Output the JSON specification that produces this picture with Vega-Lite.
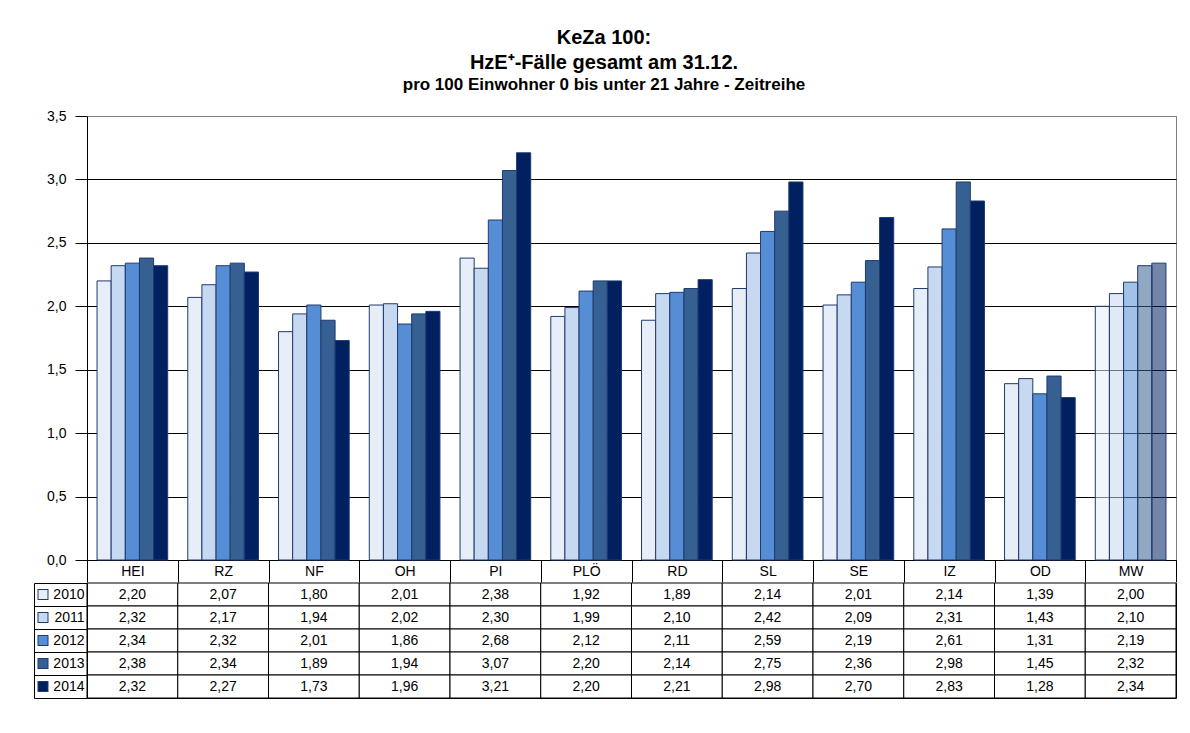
{
  "$schema": "https://vega.github.io/schema/vega-lite/v6.json",
  "padding": {"left": 31, "top": 27, "right": 16, "bottom": 32},
  "background": "white",
  "config": {
    "locale": {"number": {"decimal": ",", "thousands": ".", "grouping": [3], "currency": ["", " €"]}},
    "font": "Liberation Sans",
    "axis": {"labelFont": "Liberation Sans", "labelColor": "black", "labelFontSize": 14}
  },
  "title": {
    "text": ["KeZa 100:", "HzE⁺-Fälle gesamt am 31.12."],
    "subtitle": "pro 100 Einwohner 0 bis unter 21 Jahre - Zeitreihe",
    "anchor": "middle",
    "frame": "bounds",
    "font": "Liberation Sans",
    "fontSize": 20,
    "fontWeight": "bold",
    "lineHeight": 25,
    "color": "black",
    "subtitleFont": "Liberation Sans",
    "subtitleFontSize": 17,
    "subtitleFontWeight": "bold",
    "subtitleColor": "black",
    "subtitlePadding": 4,
    "offset": 16
  },
  "datasets": {
    "d": [
      {"Kreis": "HEI", "Jahr": "2010", "Wert": 2.20},
      {"Kreis": "RZ", "Jahr": "2010", "Wert": 2.07},
      {"Kreis": "NF", "Jahr": "2010", "Wert": 1.80},
      {"Kreis": "OH", "Jahr": "2010", "Wert": 2.01},
      {"Kreis": "PI", "Jahr": "2010", "Wert": 2.38},
      {"Kreis": "PLÖ", "Jahr": "2010", "Wert": 1.92},
      {"Kreis": "RD", "Jahr": "2010", "Wert": 1.89},
      {"Kreis": "SL", "Jahr": "2010", "Wert": 2.14},
      {"Kreis": "SE", "Jahr": "2010", "Wert": 2.01},
      {"Kreis": "IZ", "Jahr": "2010", "Wert": 2.14},
      {"Kreis": "OD", "Jahr": "2010", "Wert": 1.39},
      {"Kreis": "MW", "Jahr": "2010", "Wert": 2.00},
      {"Kreis": "HEI", "Jahr": "2011", "Wert": 2.32},
      {"Kreis": "RZ", "Jahr": "2011", "Wert": 2.17},
      {"Kreis": "NF", "Jahr": "2011", "Wert": 1.94},
      {"Kreis": "OH", "Jahr": "2011", "Wert": 2.02},
      {"Kreis": "PI", "Jahr": "2011", "Wert": 2.30},
      {"Kreis": "PLÖ", "Jahr": "2011", "Wert": 1.99},
      {"Kreis": "RD", "Jahr": "2011", "Wert": 2.10},
      {"Kreis": "SL", "Jahr": "2011", "Wert": 2.42},
      {"Kreis": "SE", "Jahr": "2011", "Wert": 2.09},
      {"Kreis": "IZ", "Jahr": "2011", "Wert": 2.31},
      {"Kreis": "OD", "Jahr": "2011", "Wert": 1.43},
      {"Kreis": "MW", "Jahr": "2011", "Wert": 2.10},
      {"Kreis": "HEI", "Jahr": "2012", "Wert": 2.34},
      {"Kreis": "RZ", "Jahr": "2012", "Wert": 2.32},
      {"Kreis": "NF", "Jahr": "2012", "Wert": 2.01},
      {"Kreis": "OH", "Jahr": "2012", "Wert": 1.86},
      {"Kreis": "PI", "Jahr": "2012", "Wert": 2.68},
      {"Kreis": "PLÖ", "Jahr": "2012", "Wert": 2.12},
      {"Kreis": "RD", "Jahr": "2012", "Wert": 2.11},
      {"Kreis": "SL", "Jahr": "2012", "Wert": 2.59},
      {"Kreis": "SE", "Jahr": "2012", "Wert": 2.19},
      {"Kreis": "IZ", "Jahr": "2012", "Wert": 2.61},
      {"Kreis": "OD", "Jahr": "2012", "Wert": 1.31},
      {"Kreis": "MW", "Jahr": "2012", "Wert": 2.19},
      {"Kreis": "HEI", "Jahr": "2013", "Wert": 2.38},
      {"Kreis": "RZ", "Jahr": "2013", "Wert": 2.34},
      {"Kreis": "NF", "Jahr": "2013", "Wert": 1.89},
      {"Kreis": "OH", "Jahr": "2013", "Wert": 1.94},
      {"Kreis": "PI", "Jahr": "2013", "Wert": 3.07},
      {"Kreis": "PLÖ", "Jahr": "2013", "Wert": 2.20},
      {"Kreis": "RD", "Jahr": "2013", "Wert": 2.14},
      {"Kreis": "SL", "Jahr": "2013", "Wert": 2.75},
      {"Kreis": "SE", "Jahr": "2013", "Wert": 2.36},
      {"Kreis": "IZ", "Jahr": "2013", "Wert": 2.98},
      {"Kreis": "OD", "Jahr": "2013", "Wert": 1.45},
      {"Kreis": "MW", "Jahr": "2013", "Wert": 2.32},
      {"Kreis": "HEI", "Jahr": "2014", "Wert": 2.32},
      {"Kreis": "RZ", "Jahr": "2014", "Wert": 2.27},
      {"Kreis": "NF", "Jahr": "2014", "Wert": 1.73},
      {"Kreis": "OH", "Jahr": "2014", "Wert": 1.96},
      {"Kreis": "PI", "Jahr": "2014", "Wert": 3.21},
      {"Kreis": "PLÖ", "Jahr": "2014", "Wert": 2.20},
      {"Kreis": "RD", "Jahr": "2014", "Wert": 2.21},
      {"Kreis": "SL", "Jahr": "2014", "Wert": 2.98},
      {"Kreis": "SE", "Jahr": "2014", "Wert": 2.70},
      {"Kreis": "IZ", "Jahr": "2014", "Wert": 2.83},
      {"Kreis": "OD", "Jahr": "2014", "Wert": 1.28},
      {"Kreis": "MW", "Jahr": "2014", "Wert": 2.34}
    ]
  },
  "data": {"name": "d"},
  "spacing": -8,
  "vconcat": [
    {
      "width": 1089,
      "height": 444,
      "view": {"stroke": "#808080"},
      "mark": {"type": "bar", "stroke": "#1f3a70", "strokeWidth": 1},
      "encoding": {
        "x": {
          "field": "Kreis", "type": "nominal",
          "scale": {"domain": ["HEI","RZ","NF","OH","PI","PLÖ","RD","SL","SE","IZ","OD","MW"], "paddingInner": 0, "paddingOuter": 0},
          "axis": {"title": null, "labelAngle": 0, "tickBand": "extent", "tickSize": 22, "tickColor": "black", "domainColor": "black", "labelPadding": -11, "labelBaseline": "middle", "labelFontSize": 14}
        },
        "xOffset": {"field": "Jahr", "type": "nominal", "scale": {"paddingOuter": 0.71, "paddingInner": 0}},
        "y": {
          "field": "Wert", "type": "quantitative",
          "scale": {"domain": [0, 3.5], "nice": false},
          "axis": {"title": null, "values": [0, 0.5, 1, 1.5, 2, 2.5, 3, 3.5], "format": ".1f", "tickSize": 12, "tickColor": "black", "domainColor": "black",
                   "gridColor": {"condition": {"test": "datum.value === 3.5", "value": "#808080"}, "value": "black"}, "labelPadding": 9}
        },
        "fill": {
          "field": "Jahr", "type": "nominal",
          "scale": {"domain": ["2010","2011","2012","2013","2014"], "range": ["#e8eef8","#c6d9f1","#558ed5","#366092","#002060"]},
          "legend": null
        },
        "fillOpacity": {"condition": {"test": "datum.Kreis === 'MW'", "value": 0.55}, "value": 1}
      }
    },
    {
      "width": 1089,
      "height": 115,
      "view": {"stroke": "black"},
      "layer": [
        {
          "mark": {"type": "rect", "fill": "white", "stroke": "black", "strokeWidth": 1},
          "encoding": {
            "x": {
              "field": "Kreis", "type": "nominal",
              "scale": {"domain": ["HEI","RZ","NF","OH","PI","PLÖ","RD","SL","SE","IZ","OD","MW"], "paddingInner": 0, "paddingOuter": 0},
              "axis": null
            },
            "y": {
              "field": "Jahr", "type": "nominal",
              "scale": {"domain": ["2010","2011","2012","2013","2014"], "paddingInner": 0, "paddingOuter": 0},
              "axis": {"title": null, "orient": "left", "grid": false, "tickBand": "extent", "tickSize": 53, "tickColor": "black", "domainColor": "black", "labelPadding": -50, "labelAlign": "right", "labelBaseline": "middle", "labelFontSize": 14}
            }
          }
        },
        {
          "mark": {"type": "text", "fontSize": 14, "font": "Liberation Sans", "color": "black"},
          "encoding": {
            "x": {"field": "Kreis", "type": "nominal", "axis": null},
            "y": {"field": "Jahr", "type": "nominal", "axis": null},
            "text": {"field": "Wert", "type": "quantitative", "format": ".2f"}
          }
        },
        {
          "mark": {"type": "point", "opacity": 0},
          "encoding": {
            "y": {
              "field": "Jahr", "type": "nominal",
              "axis": {"title": null, "orient": "left", "offset": 39, "domain": false, "labels": false, "grid": false, "ticks": true, "tickSize": 11, "tickWidth": 11, "tickColor": "#1f3a70", "tickBand": "center"}
            }
          }
        },
        {
          "mark": {"type": "point", "opacity": 0},
          "encoding": {
            "y": {
              "field": "Jahr", "type": "nominal",
              "axis": {"title": null, "orient": "left", "offset": 40, "domain": false, "labels": false, "grid": false, "ticks": true, "tickSize": 9, "tickWidth": 9, "tickBand": "center",
                       "tickColor": {"condition": [
                         {"test": "datum.value === '2010'", "value": "#e8eef8"},
                         {"test": "datum.value === '2011'", "value": "#c6d9f1"},
                         {"test": "datum.value === '2012'", "value": "#558ed5"},
                         {"test": "datum.value === '2013'", "value": "#366092"}
                       ], "value": "#002060"}}
            }
          }
        },
        {
          "mark": {"type": "point", "opacity": 0},
          "encoding": {
            "y": {
              "field": "Jahr", "type": "nominal",
              "axis": {"title": null, "orient": "left", "offset": 53, "domain": true, "domainColor": "black", "labels": false, "grid": false, "ticks": false}
            }
          }
        }
      ],
      "resolve": {"axis": {"y": "independent"}}
    }
  ]
}
